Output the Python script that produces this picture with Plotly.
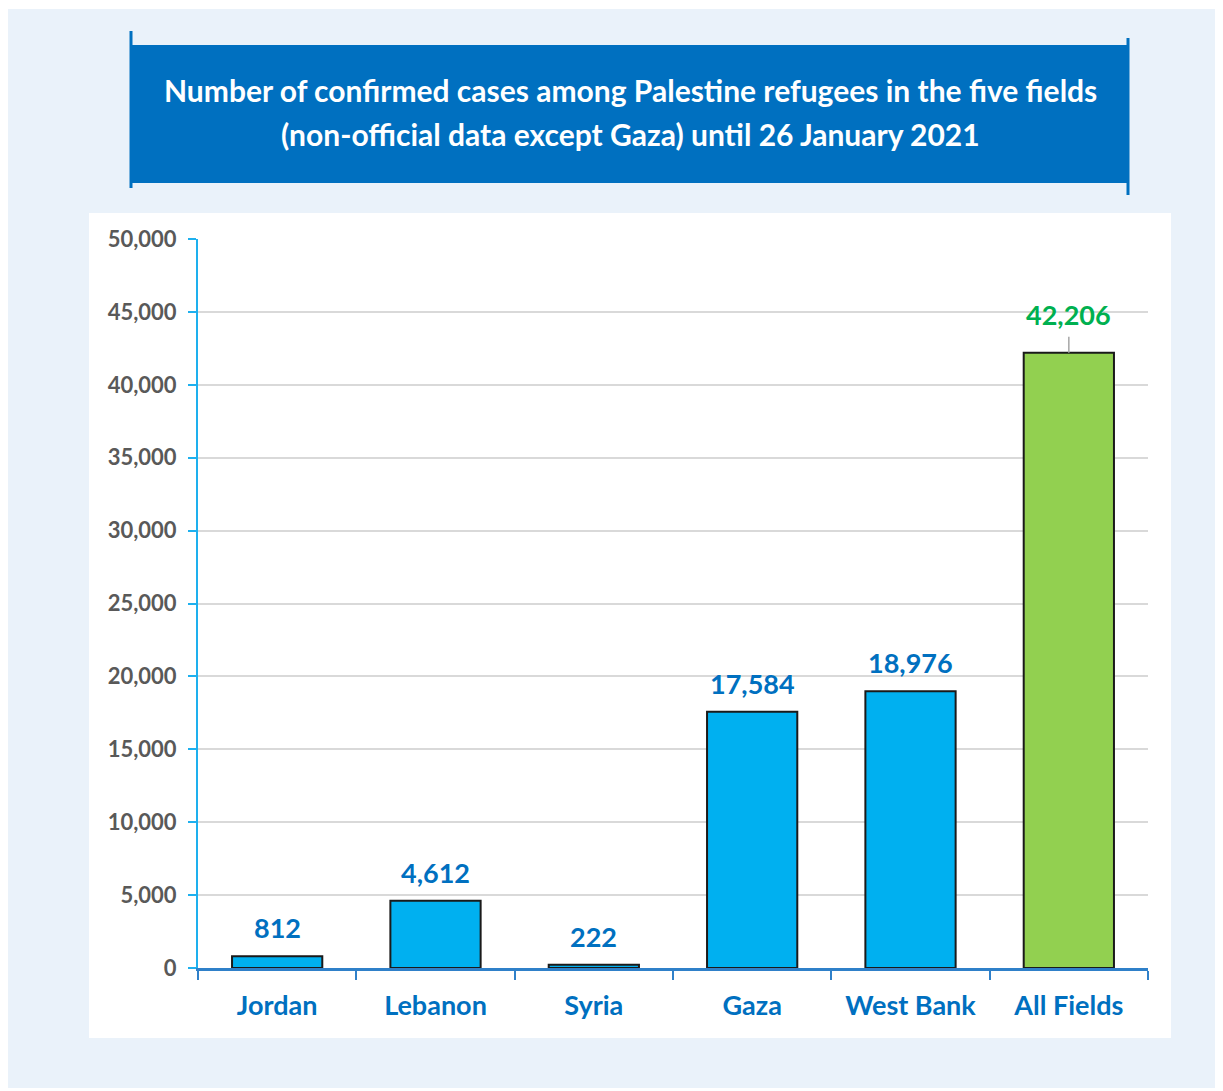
import plotly.graph_objects as go

categories = ["Jordan", "Lebanon", "Syria", "Gaza", "West Bank", "All Fields"]
cases = [812, 4612, 222, 17584, 18976, 42206]
y_ticks = [0, 5000, 10000, 15000, 20000, 25000, 30000, 35000, 40000, 45000, 50000]
title_lines = ["Number of confirmed cases among Palestine refugees in the five fields",
               "(non-official data except Gaza) until 26 January 2021"]

W, H = 1223, 1091
OFF = 8  # page offset of the figure
L, R, T, B = 198 - OFF, 1148 - OFF, 239 - OFF, 968 - OFF
YMAX = 50000
FONT = "Lato, Open Sans, sans-serif"

def px2x(px):
    return (px - OFF - L) / (R - L)

def py2y(py):
    return (B - (py - OFF)) / (B - T)

bar_colors = ["#00B0F0"] * 5 + ["#92D050"]
label_colors = ["#0070C0"] * 5 + ["#00B050"]

fig = go.Figure()
fig.add_trace(go.Bar(
    x=categories, y=cases,
    marker=dict(color=bar_colors, line=dict(color="#1A1A1A", width=2)),
    width=0.57, hoverinfo="x+y",
))

shapes = [
    dict(type="rect", xref="paper", yref="paper", x0=px2x(7), x1=px2x(1215), y0=py2y(1088), y1=py2y(9),
         fillcolor="#EAF2FA", line=dict(width=0), layer="below"),
    dict(type="rect", xref="paper", yref="paper", x0=px2x(89), x1=px2x(1171), y0=py2y(1038), y1=py2y(213),
         fillcolor="#FFFFFF", line=dict(width=0), layer="below"),
    dict(type="rect", xref="paper", yref="paper", x0=px2x(131), x1=px2x(1128), y0=py2y(183), y1=py2y(45),
         fillcolor="#0070C0", line=dict(width=0), layer="below"),
    dict(type="line", xref="paper", yref="paper", x0=px2x(131), x1=px2x(131), y0=py2y(188), y1=py2y(31),
         line=dict(color="#0070C0", width=3), layer="below"),
    dict(type="line", xref="paper", yref="paper", x0=px2x(1128), x1=px2x(1128), y0=py2y(195), y1=py2y(38),
         line=dict(color="#0070C0", width=3), layer="below"),
]

annotations = []
for line_text, cy in zip(title_lines, [90, 134]):
    annotations.append(dict(xref="paper", yref="paper", x=px2x(630), y=py2y(cy), text=line_text,
                            showarrow=False, font=dict(family=FONT, size=30, color="#FFFFFF", weight="bold"),
                            xanchor="center", yanchor="middle", align="center"))

px_per_unit = (B - T) / YMAX
for i, (c, v) in enumerate(zip(categories, cases)):
    shift = 10
    if i == len(categories) - 1:
        shift = 20
        shapes.append(dict(type="line", xref="x", yref="y", x0=c, x1=c, y0=v, y1=v + 16 / px_per_unit,
                           line=dict(color="#A6A6A6", width=1.5)))
    annotations.append(dict(x=c, y=v, xref="x", yref="y", text=f"{v:,}", showarrow=False,
                            yanchor="bottom", yshift=shift,
                            font=dict(family=FONT, size=27, color=label_colors[i], weight="bold")))

fig.update_layout(
    width=W, height=H,
    margin=dict(l=L, r=W - R, t=T, b=H - B, pad=0),
    paper_bgcolor="#FFFFFF", plot_bgcolor="rgba(0,0,0,0)",
    showlegend=False, bargap=0.43,
    shapes=shapes, annotations=annotations,
    font=dict(family=FONT),
)
fig.update_yaxes(
    range=[0, YMAX], tickvals=y_ticks, tickformat=",",
    showgrid=True, gridcolor="#D9D9D9", gridwidth=1.5,
    showline=True, linecolor="#1EB0EE", linewidth=2,
    ticks="outside", ticklen=8, tickcolor="#1EB0EE", tickwidth=2,
    tickfont=dict(family=FONT, size=22, color="#595959", weight="bold"),
    ticklabelstandoff=7, zeroline=False,
)
fig.update_xaxes(
    showline=True, linecolor="#2F80C9", linewidth=2.5,
    ticks="outside", tickson="boundaries", ticklen=9, tickcolor="#2F80C9", tickwidth=2,
    tickfont=dict(family=FONT, size=27, color="#0070C0", weight="bold"),
    ticklabelstandoff=12, showgrid=False,
)

fig.write_html("out.html")
